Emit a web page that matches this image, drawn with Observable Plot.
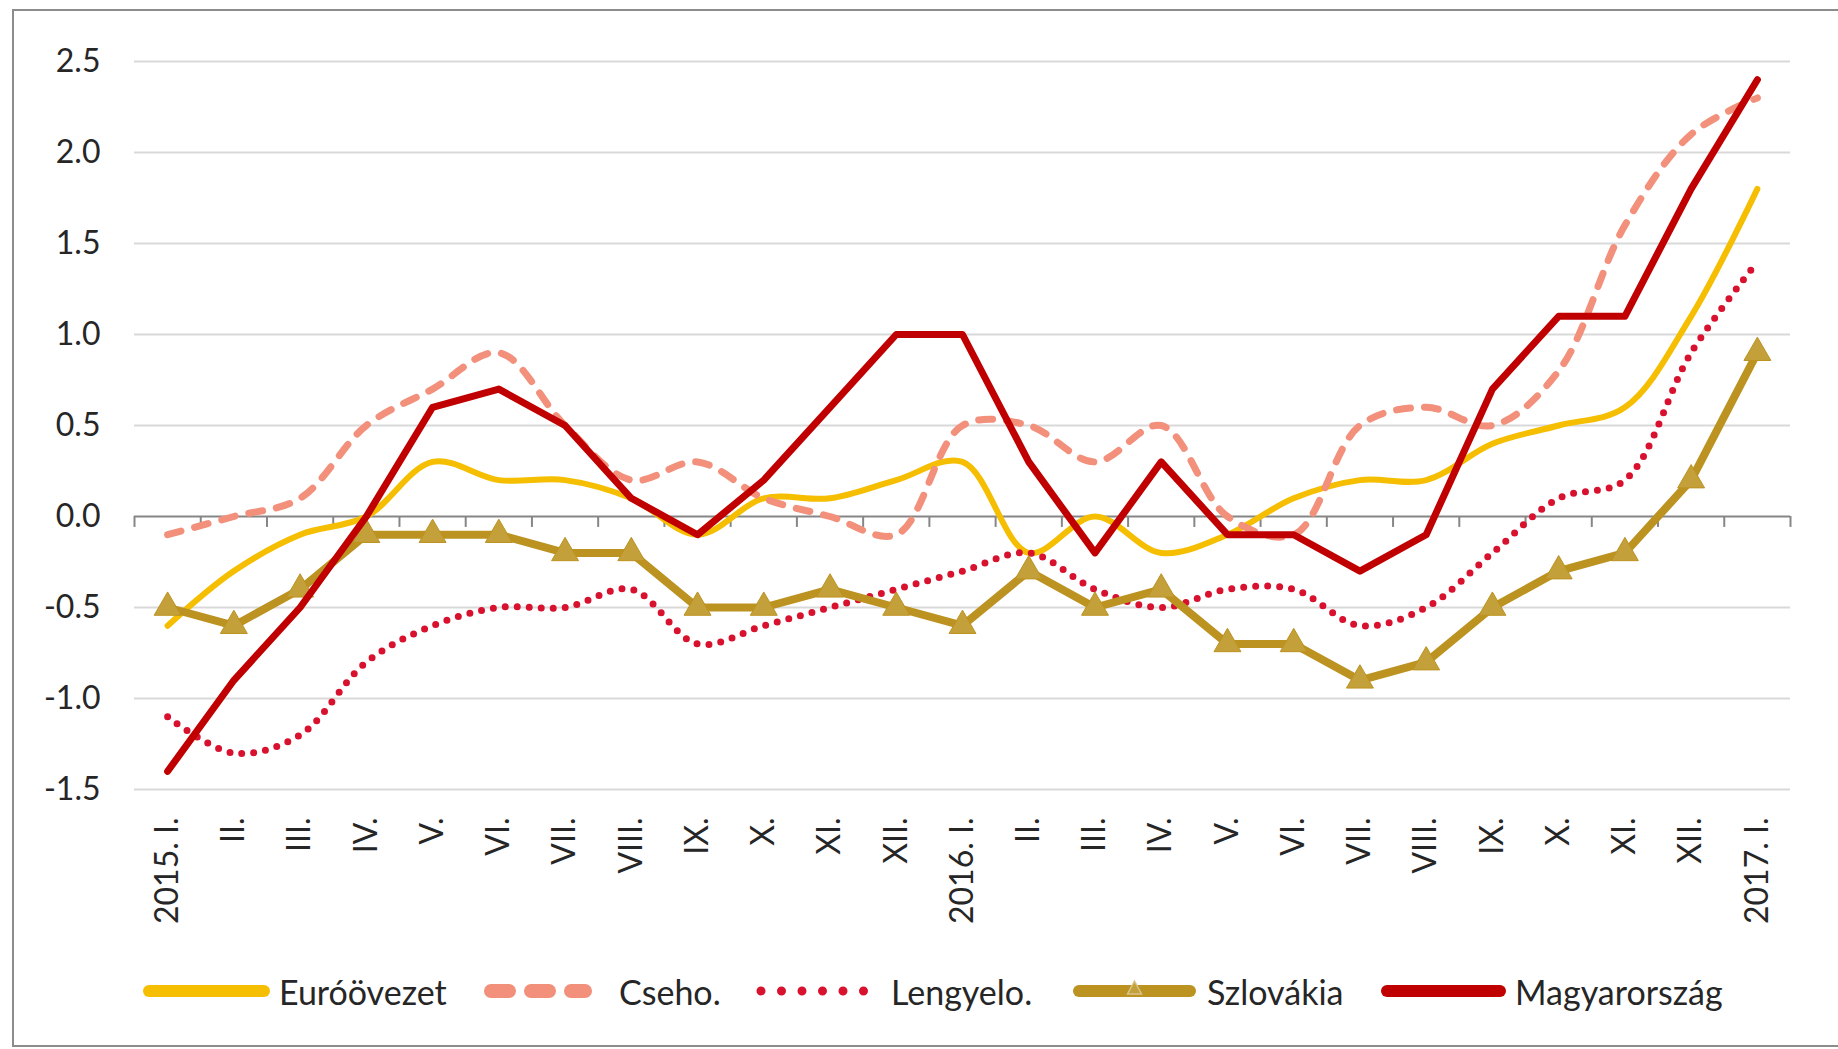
<!DOCTYPE html>
<html><head><meta charset="utf-8">
<script src="https://cdn.jsdelivr.net/npm/d3@7"></script>
<script src="https://cdn.jsdelivr.net/npm/@observablehq/plot@0.6"></script>
<style>
html,body{margin:0;padding:0;background:#fff;}
body{width:1838px;height:1049px;position:relative;overflow:hidden;font-family:Lato,sans-serif;}
#frame{position:absolute;left:12px;top:9px;width:1840px;height:1038px;border:2px solid #8c8c8c;box-sizing:border-box;pointer-events:none;}
#chart{position:absolute;left:0;top:0;}
#legend{position:absolute;left:0;top:968px;width:1838px;height:46px;}
.item{position:absolute;top:0;height:46px;display:flex;align-items:center;font-size:34px;color:#262626;white-space:nowrap;}
.item svg{display:block;}
</style></head>
<body>
<div id="chart"></div>
<div id="legend"></div>
<div id="frame"></div>
<script>
// ---- data ----
const labels = ["2015. I.","II.","III.","IV.","V.","VI.","VII.","VIII.","IX.","X.","XI.","XII.",
  "2016. I.","II.","III.","IV.","V.","VI.","VII.","VIII.","IX.","X.","XI.","XII.","2017. I."];
const seriesNames = ["Euróövezet","Cseho.","Lengyelo.","Szlovákia","Magyarország"];
const euro      = [-0.6,-0.3,-0.1,0.0,0.3,0.2,0.2,0.1,-0.1,0.1,0.1,0.2,0.3,-0.2,0.0,-0.2,-0.1,0.1,0.2,0.2,0.4,0.5,0.6,1.1,1.8];
const cseho     = [-0.1,0.0,0.1,0.5,0.7,0.9,0.5,0.2,0.3,0.1,0.0,-0.1,0.5,0.5,0.3,0.5,0.0,-0.1,0.5,0.6,0.5,0.8,1.6,2.1,2.3];
const lengyelo  = [-1.1,-1.3,-1.2,-0.8,-0.6,-0.5,-0.5,-0.4,-0.7,-0.6,-0.5,-0.4,-0.3,-0.2,-0.4,-0.5,-0.4,-0.4,-0.6,-0.5,-0.2,0.1,0.2,0.9,1.4];
const szlovakia = [-0.5,-0.6,-0.4,-0.1,-0.1,-0.1,-0.2,-0.2,-0.5,-0.5,-0.4,-0.5,-0.6,-0.3,-0.5,-0.4,-0.7,-0.7,-0.9,-0.8,-0.5,-0.3,-0.2,0.2,0.9];
const magyar    = [-1.4,-0.9,-0.5,0.0,0.6,0.7,0.5,0.1,-0.1,0.2,0.6,1.0,1.0,0.3,-0.2,0.3,-0.1,-0.1,-0.3,-0.1,0.7,1.1,1.1,1.8,2.4];
const yTicks = [-1.5,-1.0,-0.5,0.0,0.5,1.0,1.5,2.0,2.5];

const colors = {
  euro: "#F5BE00", cseho: "#F2907B", lengyelo: "#D8122E", szlovakia: "#BC9220", szlovakiaMarker: "#C4A03A", magyar: "#C00000"
};

const rows = vals => vals.map((v, i) => ({i, v}));
const boundaries = d3.range(labels.length + 1).map(k => k - 0.5);

const chart = Plot.plot({
  width: 1838, height: 950,
  marginLeft: 134, marginRight: 48, marginTop: 61, marginBottom: 161,
  x: {type: "linear", domain: [-0.5, labels.length - 0.5], label: null},
  y: {domain: [-1.5, 2.5], label: null},
  style: {fontFamily: "Lato, sans-serif", fontSize: "32px", color: "#262626", background: "transparent", overflow: "visible"},
  marks: [
    Plot.ruleY(yTicks.filter(d => d !== 0), {stroke: "#d9d9d9", strokeWidth: 2}),
    Plot.axisY({ticks: yTicks, tickFormat: d => d.toFixed(1), tickSize: 0, tickPadding: 34, fontSize: 32, fill: "#262626", label: null}),
    Plot.axisX({ticks: d3.range(labels.length), tickFormat: i => labels[i], tickRotate: -90, tickSize: 0, tickPadding: 28, fontSize: 32, fill: "#262626", label: null}),
    Plot.ruleY([0], {stroke: "#868686", strokeWidth: 2}),
    Plot.ruleX(boundaries, {y1: 0, y2: -0.06, stroke: "#868686", strokeWidth: 2}),
    Plot.line(rows(euro), {x: "i", y: "v", stroke: colors.euro, strokeWidth: 6, curve: "catmull-rom", strokeLinejoin: "round"}),
    Plot.line(rows(cseho), {x: "i", y: "v", stroke: colors.cseho, strokeWidth: 7, curve: "catmull-rom", strokeDasharray: "14,14", strokeLinecap: "round"}),
    Plot.line(rows(lengyelo), {x: "i", y: "v", stroke: colors.lengyelo, strokeWidth: 7, curve: "catmull-rom", strokeDasharray: "0,12", strokeLinecap: "round"}),
    Plot.line(rows(szlovakia), {x: "i", y: "v", stroke: colors.szlovakia, strokeWidth: 8, strokeLinejoin: "round"}),
    Plot.dot(rows(szlovakia), {x: "i", y: "v", symbol: "triangle", r: 10, fill: colors.szlovakiaMarker, stroke: colors.szlovakia, strokeWidth: 1}),
    Plot.line(rows(magyar), {x: "i", y: "v", stroke: colors.magyar, strokeWidth: 7, strokeLinejoin: "round"})
  ]
});
document.getElementById("chart").appendChild(chart);

// ---- legend ----
const legendItems = [
  {name: seriesNames[0], left: 143, sw: 127, gap: 9, kind: "solid", color: colors.euro},
  {name: seriesNames[1], left: 484, sw: 108, gap: 27, kind: "dash", color: colors.cseho},
  {name: seriesNames[2], left: 756, sw: 112, gap: 23, kind: "dot", color: colors.lengyelo},
  {name: seriesNames[3], left: 1073, sw: 123, gap: 11, kind: "tri", color: colors.szlovakia},
  {name: seriesNames[4], left: 1381, sw: 125, gap: 9, kind: "solid", color: colors.magyar}
];
const legend = document.getElementById("legend");
const NS = "http://www.w3.org/2000/svg";
for (const it of legendItems) {
  const div = document.createElement("div");
  div.className = "item";
  div.style.left = it.left + "px";
  const svg = document.createElementNS(NS, "svg");
  svg.setAttribute("width", it.sw);
  svg.setAttribute("height", 30);
  svg.style.marginRight = it.gap + "px";
  const ln = document.createElementNS(NS, "line");
  ln.setAttribute("y1", 15); ln.setAttribute("y2", 15);
  ln.setAttribute("stroke", it.color);
  ln.setAttribute("stroke-linecap", "round");
  if (it.kind === "solid" || it.kind === "tri") {
    ln.setAttribute("x1", 6); ln.setAttribute("x2", it.sw - 6);
    ln.setAttribute("stroke-width", 12);
  } else if (it.kind === "dash") {
    ln.setAttribute("x1", 7); ln.setAttribute("x2", it.sw - 7);
    ln.setAttribute("stroke-width", 14);
    ln.setAttribute("stroke-dasharray", "18,22");
  } else {
    ln.setAttribute("x1", 5); ln.setAttribute("x2", it.sw - 4);
    ln.setAttribute("stroke-width", 9);
    ln.setAttribute("stroke-dasharray", "0,20.5");
  }
  svg.appendChild(ln);
  if (it.kind === "tri") {
    const tri = document.createElementNS(NS, "path");
    const cx = it.sw / 2;
    tri.setAttribute("d", `M${cx},5 L${cx + 7},18 L${cx - 7},18 Z`);
    tri.setAttribute("fill", colors.szlovakiaMarker);
    tri.setAttribute("stroke", "#d8c48a");
    tri.setAttribute("stroke-width", 1.5);
    svg.appendChild(tri);
  }
  div.appendChild(svg);
  const span = document.createElement("span");
  span.textContent = it.name;
  div.appendChild(span);
  legend.appendChild(div);
}
</script>
</body></html>
